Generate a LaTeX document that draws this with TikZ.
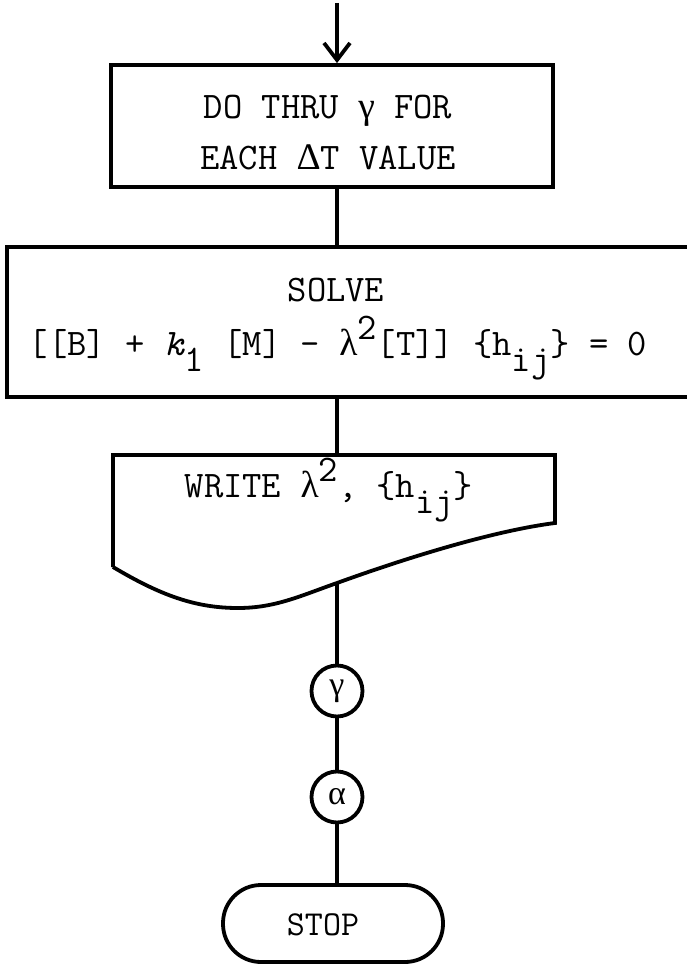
\documentclass[tikz,border=0pt]{standalone}
\usepackage{fontspec}
\usetikzlibrary{arrows.meta}
\newfontfamily\grk{Liberation Serif}
\newcommand\subtt[1]{\raisebox{-0.42em}{#1}}
\newcommand\suptt[1]{\raisebox{0.42em}{#1}}
\begin{document}
\begin{tikzpicture}[x=1pt,y=-1pt,
  line width=3.8pt,
  every node/.style={font=\ttfamily\fontsize{37.5}{46}\selectfont, inner sep=0pt},
  boxshape/.style={draw, rectangle, line cap=rect},
  conn/.style={draw, line width=3.8pt},
  circ/.style={draw, circle, minimum size=51pt, font=\fontsize{34}{34}\selectfont\grk},
  term/.style={draw, rectangle, rounded corners=38pt, minimum width=220pt, minimum height=77pt}
]
\useasboundingbox (0,0) rectangle (686,965);
\coordinate (start) at (337,3);
% box 1
\node[boxshape, minimum width=442pt, minimum height=122pt] (box1) at (332,126) {};
\node (t1a) at (328,111) {DO THRU {\grk γ} FOR};
\node (t1b) at (328,157) {EACH {\grk Δ}T VALUE};
% box 2
\node[boxshape, minimum width=740pt, minimum height=150pt, anchor=north west] (box2) at (5,245) {};
\node (t2a) at (336,290) {SOLVE};
\node (t2b) at (338,348) {[[B] + \textit{k}\subtt{1} [M] - {\grk λ}\suptt{2}[T]] \{h\subtt{ij}\} = 0};
% document
\coordinate (doctop) at (337,455);
\coordinate (docbot) at (337,583);
\draw[line join=miter] (113,567) -- (113,455) -- (555,455) -- (555,523)
  .. controls (500,530) and (420,553) .. (docbot)
  .. controls (300,596) and (275,608) .. (238,608)
  .. controls (195,608) and (160,595) .. (113,567);
\node (t3) at (329,490) {WRITE {\grk λ}\suptt{2}, \{h\subtt{ij}\}};
% circles and terminal
\node[circ] (gam) at (337,691) {γ};
\node[circ] (alp) at (337,797) {α};
\node[term] (stop) at (333,923.5) {};
\node[font=\ttfamily\fontsize{35}{40}\selectfont] (stopt) at (323,925) {STOP};
% connectors
\draw[conn, -{Straight Barb[length=17pt,width=26pt,line width=3.8pt]}] (start) -- (start |- box1.north);
\draw[conn] (box1.south -| start) -- (box2.north -| start);
\draw[conn] (box2.south -| start) -- (doctop);
\draw[conn] (docbot) -- (gam.north);
\draw[conn] (gam.south) -- (alp.north);
\draw[conn] (alp.south) -- (stop.north -| alp);
\end{tikzpicture}
\end{document}
